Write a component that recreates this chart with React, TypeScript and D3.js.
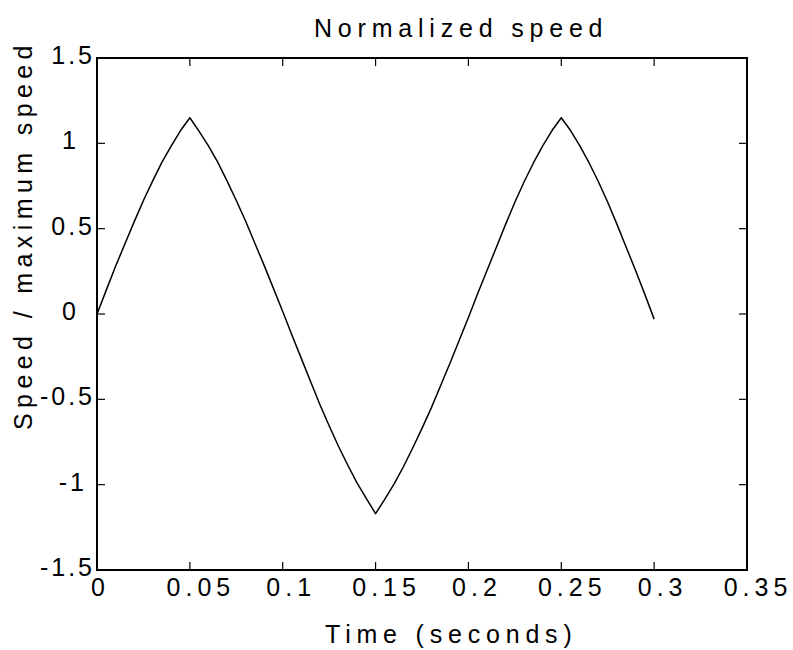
import React from "react";
import * as d3 from "d3";

const times = [
  0, 0.005, 0.01, 0.015, 0.02, 0.025, 0.03, 0.035, 0.04, 0.045, 0.05,
  0.055, 0.06, 0.065, 0.07, 0.075, 0.08, 0.085, 0.09, 0.095, 0.1,
  0.105, 0.11, 0.115, 0.12, 0.125, 0.13, 0.135, 0.14, 0.145, 0.15,
  0.155, 0.16, 0.165, 0.17, 0.175, 0.18, 0.185, 0.19, 0.195, 0.2,
  0.205, 0.21, 0.215, 0.22, 0.225, 0.23, 0.235, 0.24, 0.245, 0.25,
  0.255, 0.26, 0.265, 0.27, 0.275, 0.28, 0.285, 0.29, 0.295, 0.3,
];
const speeds = [
  0, 0.14, 0.28, 0.41, 0.54, 0.665, 0.78, 0.89, 0.985, 1.075, 1.15,
  1.07, 0.985, 0.89, 0.78, 0.665, 0.545, 0.415, 0.285, 0.15, 0.015,
  -0.125, -0.26, -0.395, -0.53, -0.655, -0.775, -0.885, -0.99, -1.08, -1.17,
  -1.085, -0.995, -0.895, -0.785, -0.67, -0.55, -0.42, -0.29, -0.155, -0.02,
  0.12, 0.255, 0.39, 0.525, 0.655, 0.775, 0.885, 0.985, 1.075, 1.15,
  1.075, 0.985, 0.885, 0.775, 0.655, 0.525, 0.39, 0.255, 0.115, -0.03,
];
const xTicks = [0, 0.05, 0.1, 0.15, 0.2, 0.25, 0.3, 0.35];
const xTickLabels = ["0", "0.05", "0.1", "0.15", "0.2", "0.25", "0.3", "0.35"];
const yTicks = [-1.5, -1, -0.5, 0, 0.5, 1, 1.5];
const yTickLabels = ["-1.5", "-1", "-0.5", "0", "0.5", "1", "1.5"];
const title = "Normalized speed";
const xLabel = "Time (seconds)";
const yLabel = "Speed / maximum speed";

const charW: Record<string, number> = { "-": 0.333, ".": 0.278 };
function natWidth(s: string, fs: number) {
  let w = 0;
  for (const c of s) w += charW[c] ?? 0.556;
  return w * fs;
}

export default function App() {
  const W = 793, H = 650;
  const L = 97, R = 747, T = 58, B = 570;
  const x = d3.scaleLinear().domain([0, 0.35]).range([L, R]);
  const y = d3.scaleLinear().domain([-1.5, 1.5]).range([B, T]);
  const line = d3.line<number>().x((_, i) => x(times[i])).y((d) => y(d));
  const font = "'Liberation Sans', Arial, sans-serif";
  const fs = 25;
  const ls = 5.8;
  const lsX = 5;
  const lsY = 3;
  const tl = 8;
  const yLabelStart = (s: string) => {
    const n = s.length;
    const end = 92 - Math.max(0, 3 - n) * 8;
    return end - natWidth(s, fs) - (n - 1) * lsY;
  };
  return (
    <svg width={W} height={H} style={{ position: "absolute", left: 0, top: 0, background: "#fff" }} fontFamily={font}>
      <rect x={0} y={0} width={W} height={H} fill="#fff" />
      <path d={line(speeds) || ""} fill="none" stroke="#000" strokeWidth={1.5} strokeLinejoin="round" />
      {xTicks.map((t, i) => (
        <g key={"xt" + i}>
          <line x1={x(t)} x2={x(t)} y1={B} y2={B - tl} stroke="#000" strokeWidth={1.2} />
          <line x1={x(t)} x2={x(t)} y1={T} y2={T + tl} stroke="#000" strokeWidth={1.2} />
          <text x={x(t) - natWidth(xTickLabels[i], fs) / 2 + 1} y={B + 26} textAnchor="start" fontSize={fs} letterSpacing={lsX}>{xTickLabels[i]}</text>
        </g>
      ))}
      {yTicks.map((t, i) => (
        <g key={"yt" + i}>
          <line x1={L} x2={L + tl} y1={y(t)} y2={y(t)} stroke="#000" strokeWidth={1.2} />
          <line x1={R} x2={R - tl} y1={y(t)} y2={y(t)} stroke="#000" strokeWidth={1.2} />
          <text x={yLabelStart(yTickLabels[i])} y={y(t) + 6} textAnchor="start" fontSize={fs} letterSpacing={lsY}>{yTickLabels[i]}</text>
        </g>
      ))}
      <rect x={L} y={T} width={R - L} height={B - T} fill="none" stroke="#000" strokeWidth={2} />
      <text x={314} y={37} textAnchor="start" fontSize={fs} letterSpacing={ls}>{title}</text>
      <text x={325} y={643} textAnchor="start" fontSize={fs} letterSpacing={ls}>{xLabel}</text>
      <text transform={`translate(32, 430) rotate(-90)`} textAnchor="start" fontSize={fs} letterSpacing={5.4}>{yLabel}</text>
    </svg>
  );
}
